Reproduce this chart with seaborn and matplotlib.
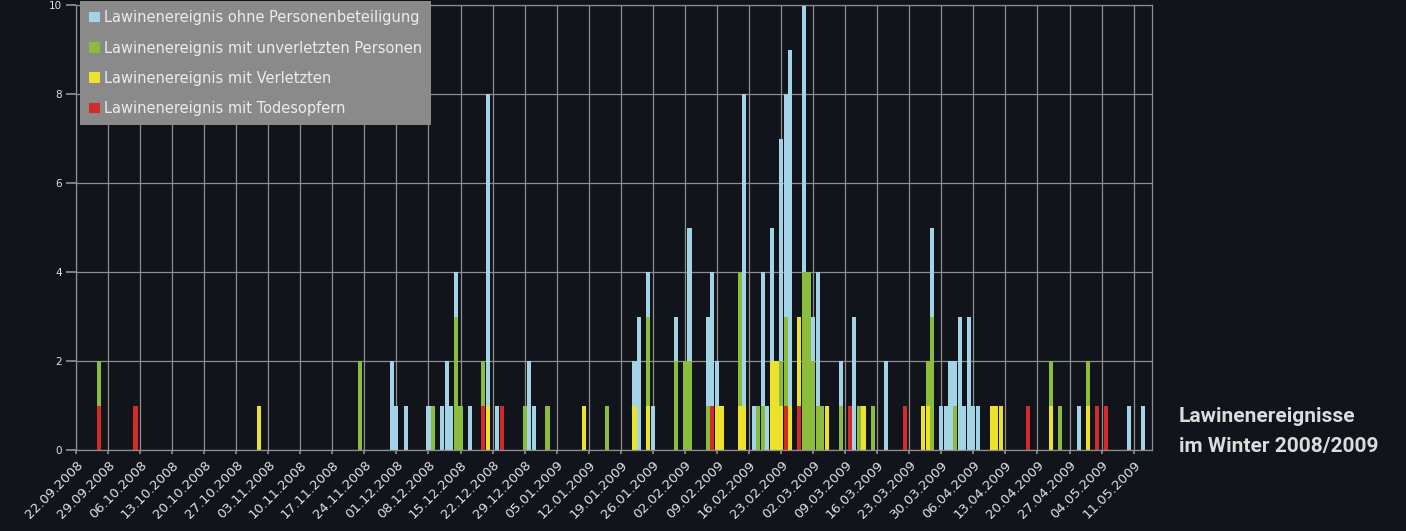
import pandas as pd
import matplotlib.pyplot as plt
import matplotlib.transforms as mtransforms
from matplotlib.patches import Patch
import seaborn as sns

# Tage seit dem 22.09.2008 und Anzahl der Ereignisse pro Tag
ohne_tage = [69, 70, 72, 77, 80, 81, 82, 83, 86, 90, 92, 99, 100, 122, 123, 125, 126,
             131, 134, 138, 139, 140, 146, 148, 150, 151, 152, 154, 155, 156, 159, 160,
             161, 162, 167, 170, 177, 187, 189, 190, 191, 192, 193, 194, 195, 196, 197,
             219, 230, 233]
ohne_werte = [2, 1, 1, 1, 1, 2, 1, 4, 1, 8, 1, 2, 1, 2, 3, 4, 1,
              3, 5, 3, 4, 2, 8, 1, 4, 1, 5, 7, 8, 9, 10, 3,
              3, 4, 2, 3, 2, 5, 1, 1, 2, 2, 3, 1, 3, 1, 1,
              1, 1, 1]

unverletzt_tage = [5, 62, 78, 83, 84, 89, 98, 103, 116, 125, 131, 133, 134, 138, 145,
                   149, 150, 153, 154, 155, 159, 160, 161, 162, 163, 167, 171, 174, 186,
                   187, 192, 213, 215, 221]
unverletzt_werte = [2, 2, 1, 3, 1, 2, 1, 1, 1, 3, 2, 2, 2, 1, 4,
                    1, 1, 1, 2, 3, 4, 4, 2, 1, 1, 1, 1, 1, 2,
                    3, 1, 2, 1, 2]

verletzt_tage = [40, 90, 111, 122, 125, 140, 141, 145, 146, 152, 153, 154, 156, 158, 164,
                 172, 185, 186, 200, 201, 202, 213, 221]
verletzt_werte = [1, 1, 1, 1, 1, 1, 1, 1, 1, 2, 2, 1, 1, 3, 1,
                  1, 1, 1, 1, 1, 1, 1, 1]

tote_tage = [5, 13, 89, 93, 139, 155, 158, 169, 181, 208, 223, 225]
tote_werte = [1, 1, 1, 1, 1, 1, 1, 1, 1, 1, 1, 1]

arten = ['Lawinenereignis ohne Personenbeteiligung',
         'Lawinenereignis mit unverletzten Personen',
         'Lawinenereignis mit Verletzten',
         'Lawinenereignis mit Todesopfern']
farben = ['#a3d4e6', '#8cbc3c', '#ece22a', '#d42a2a']

wochen = pd.date_range('2008-09-22', '2009-05-11', freq='7D')
wochen_labels = [d.strftime('%d.%m.%Y') for d in wochen]

bg = '#12141b'
grid = '#8e8e8e'
txt = '#e2e2e2'

teile = []
for art, tage, werte in zip(arten,
                            [ohne_tage, unverletzt_tage, verletzt_tage, tote_tage],
                            [ohne_werte, unverletzt_werte, verletzt_werte, tote_werte]):
    teile.append(pd.DataFrame({'tag': tage, 'anzahl': werte, 'art': art}))
df = pd.concat(teile, ignore_index=True)

sns.set_theme(style='dark', rc={'axes.facecolor': bg, 'figure.facecolor': bg})
plt.rcParams['font.family'] = ['DejaVu Sans']

fig = plt.figure(figsize=(14.06, 5.31), dpi=100)
ax = fig.add_axes([0.054, 0.1525, 0.7653, 0.838])

sns.barplot(data=df, x='tag', y='anzahl', hue='art', hue_order=arten, palette=farben,
            native_scale=True, dodge=False, width=0.9, saturation=1, errorbar=None,
            linewidth=0, legend=False, ax=ax)

ax.set_xlim(0, 235)
ax.set_ylim(0, 10)
ax.set_xticks(range(0, 7 * len(wochen), 7))
ax.set_xticklabels(wochen_labels, rotation=45, ha='right', rotation_mode='anchor',
                   fontsize=9.5, color=txt)
# Beschriftungen etwas nach links schieben wie im Original
verschiebung = mtransforms.ScaledTranslation(-5 / 100, 0, fig.dpi_scale_trans)
for lab in ax.get_xticklabels():
    lab.set_transform(lab.get_transform() + verschiebung)
ax.set_yticks(range(0, 11, 2))
ax.set_yticklabels([str(v) for v in range(0, 11, 2)], fontsize=7.5, color=txt)
ax.tick_params(axis='y', length=7, color=grid, pad=3, left=True)
ax.tick_params(axis='x', length=3, color=grid, pad=3, bottom=True)
ax.set_xlabel('')
ax.set_ylabel('')
ax.grid(True, color=grid, linewidth=0.9)
ax.set_axisbelow(True)
for s in ax.spines.values():
    s.set_color(grid)
    s.set_linewidth(0.9)

handles = [Patch(facecolor=c, edgecolor='none') for c in farben]
leg = ax.legend(handles, arten, loc='upper left', bbox_to_anchor=(0.004, 1.008),
                fontsize=10.5, frameon=True, facecolor='#8a8a8a', edgecolor='none',
                framealpha=1, fancybox=False, labelspacing=1.05, handlelength=0.75,
                handleheight=0.75, handletextpad=0.3, borderpad=0.6, borderaxespad=0)
for t in leg.get_texts():
    t.set_color('#ececec')

fig.text(1179 / 1406, 1 - 422 / 531, 'Lawinenereignisse', color='#dcdcdc',
         fontsize=15, fontweight='bold', va='baseline',
         family=['Liberation Sans Narrow', 'Roboto', 'DejaVu Sans'])
fig.text(1179 / 1406, 1 - 452 / 531, 'im Winter 2008/2009', color='#dcdcdc',
         fontsize=15, fontweight='bold', va='baseline',
         family=['Liberation Sans Narrow', 'Roboto', 'DejaVu Sans'])

fig.savefig('out.png', dpi=100, facecolor=bg)
